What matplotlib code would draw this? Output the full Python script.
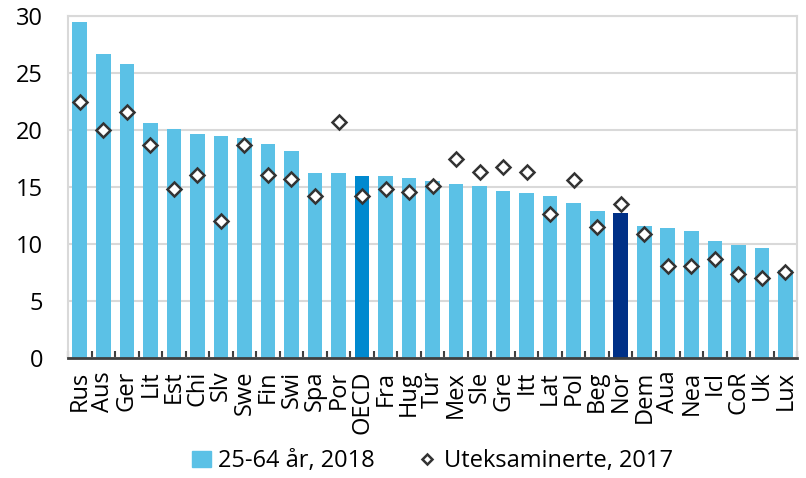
import matplotlib
matplotlib.use("Agg")
import matplotlib.pyplot as plt
import numpy as np

plt.rcParams['font.family'] = ['Open Sans', 'DejaVu Sans']

countries = ["Rus", "Aus", "Ger", "Lit", "Est", "Chi", "Slv", "Swe", "Fin", "Swi",
             "Spa", "Por", "OECD", "Fra", "Hug", "Tur", "Mex", "Sle", "Gre", "Itt",
             "Lat", "Pol", "Beg", "Nor", "Dem", "Aua", "Nea", "Icl", "CoR", "Uk", "Lux"]
adults_2018 = [29.5, 26.7, 25.8, 20.6, 20.1, 19.7, 19.5, 19.3, 18.8, 18.2,
               16.2, 16.2, 16.0, 16.0, 15.8, 15.5, 15.3, 15.1, 14.7, 14.5,
               14.25, 13.6, 12.9, 12.7, 11.6, 11.4, 11.2, 10.3, 9.9, 9.7, 7.7]
graduates_2017 = [22.45, 20.0, 21.6, 18.7, 14.8, 16.1, 12.0, 18.7, 16.1, 15.7,
                  14.2, 20.7, 14.2, 14.8, 14.6, 15.1, 17.45, 16.3, 16.8, 16.3,
                  12.65, 15.65, 11.55, 13.5, 10.9, 8.05, 8.05, 8.7, 7.4, 7.0, 7.6]

light = "#5bc1e6"
colors = [light] * len(countries)
colors[countries.index("OECD")] = "#0089cf"
colors[countries.index("Nor")] = "#003087"

fig = plt.figure(figsize=(8.06, 4.78), dpi=100)
ax = fig.add_axes([0.0844, 0.2504, 0.9046, 0.7161])

x = np.arange(len(countries))
bars = ax.bar(x, adults_2018, width=0.62, color=colors, zorder=2)
dots, = ax.plot(x, graduates_2017, linestyle="none", marker="D", markersize=7.5,
                markerfacecolor="white", markeredgecolor="#333333", markeredgewidth=1.8,
                zorder=3)

ax.set_xlim(-0.5, len(countries) - 0.5)
ax.set_ylim(0, 30)
ax.set_yticks(range(0, 31, 5))
ax.yaxis.grid(True, color="#d9d9d9", linewidth=1.5, zorder=0)
ax.set_axisbelow(True)

for side in ("top", "right", "left"):
    ax.spines[side].set_color("#d9d9d9")
    ax.spines[side].set_linewidth(1.5)
ax.spines["bottom"].set_color("#404040")
ax.spines["bottom"].set_linewidth(2)

ax.tick_params(axis="y", length=0, pad=18, labelsize=17, colors="black")

# category labels centred, boundary ticks pointing inward
ax.set_xticks(x)
ax.set_xticklabels(countries, rotation=90, fontsize=17)
ax.tick_params(axis="x", which="major", length=0, pad=9)
ax.set_xticks(np.arange(-0.5, len(countries)), minor=True)
ax.tick_params(axis="x", which="minor", direction="in", length=5, width=1.5,
               color="#404040")

leg = ax.legend([bars[0], dots], ["25-64 år, 2018", "Uteksaminerte, 2017"],
                loc="center", bbox_to_anchor=(0.5, -0.301), ncol=2, frameon=False,
                fontsize=17, handlelength=0.8, handletextpad=0.3, columnspacing=1.8,
                borderaxespad=0)
leg.legend_handles[0].set_color(light)
leg.legend_handles[1].set_markersize(5)

fig.savefig("out.png", dpi=100)
